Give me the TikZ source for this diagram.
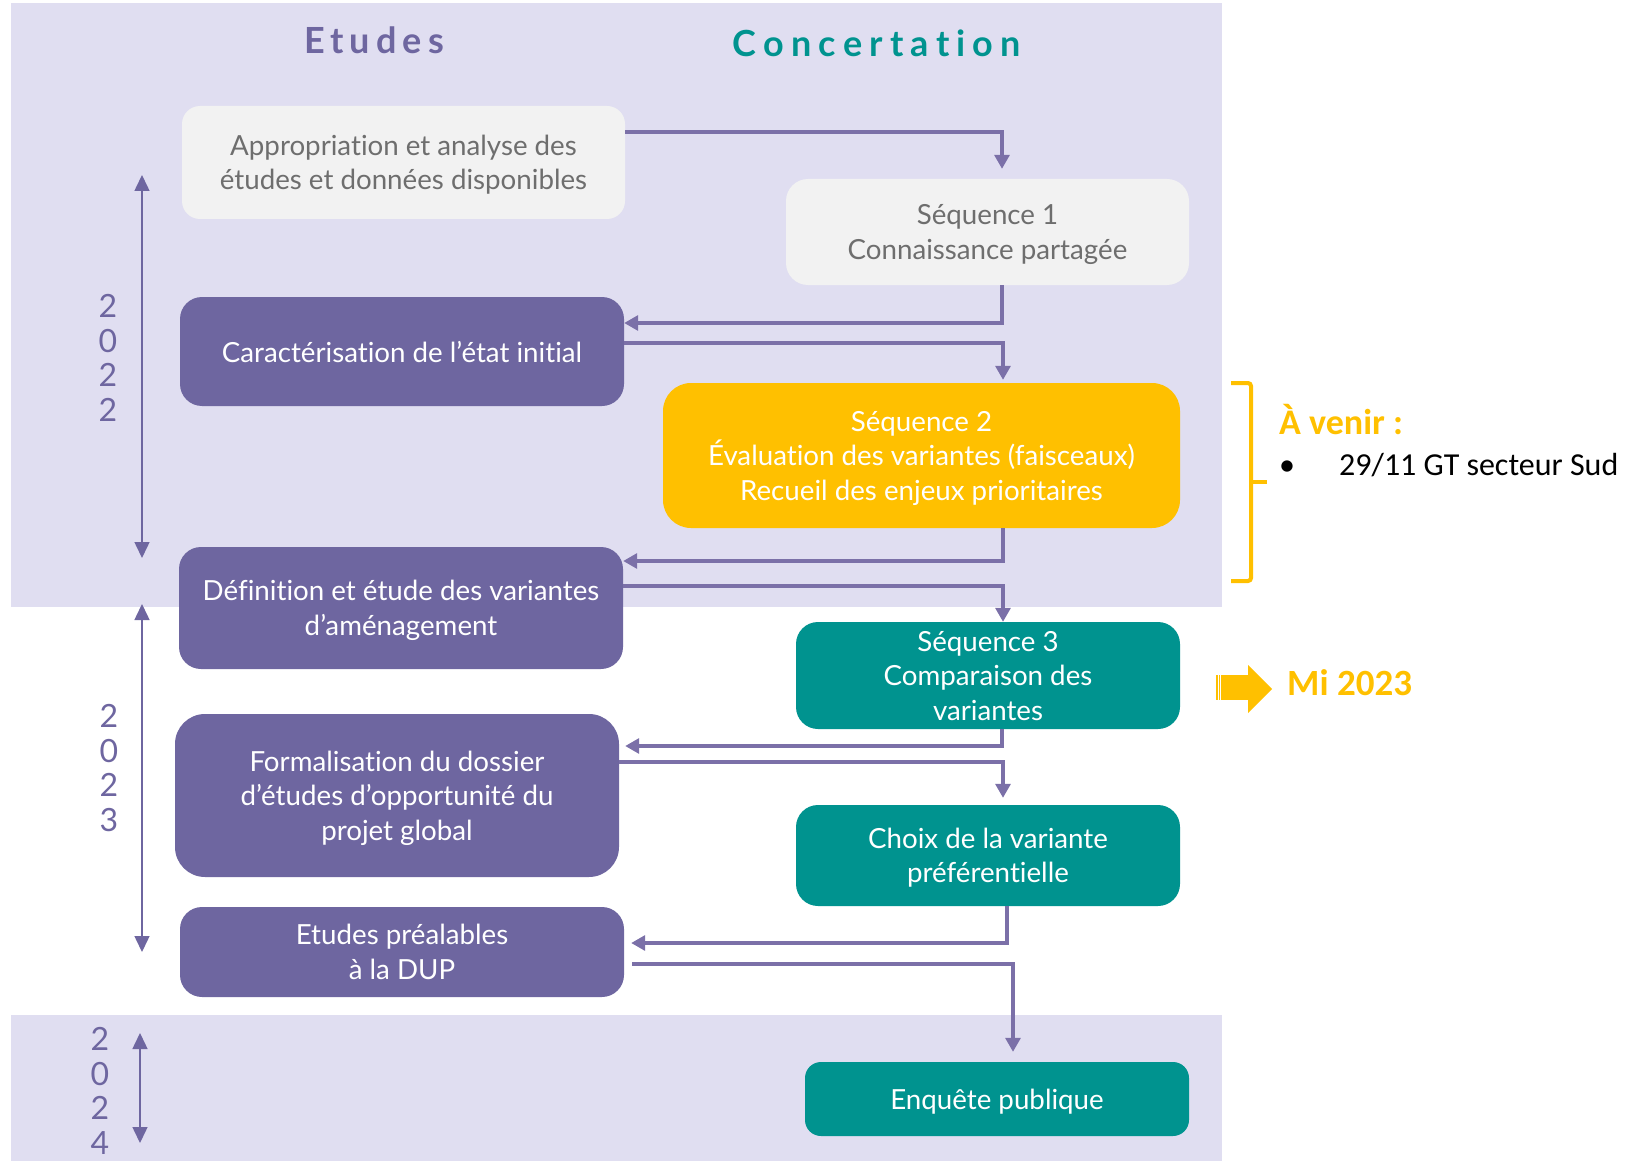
\documentclass[tikz,border=0pt]{standalone}
\usepackage{fontspec}
\setmainfont{Lato}[Ligatures=NoCommon]
\newfontfamily\calfont{Carlito}
\newfontfamily\titlefont[LetterSpace=17,Ligatures=NoCommon]{Lato}
\newfontfamily\titlefontwide[LetterSpace=20,Ligatures=NoCommon]{Lato}
\usepackage{tikz}
\usetikzlibrary{arrows.meta,calc}
\definecolor{bandlav}{HTML}{E0DEF1}
\definecolor{etupurple}{HTML}{6E66A0}
\definecolor{conteal}{HTML}{00938F}
\definecolor{boxgrey}{HTML}{F2F2F2}
\definecolor{textgrey}{HTML}{6E6E6E}
\definecolor{seqyellow}{HTML}{FFC000}
\definecolor{flowpurple}{HTML}{7B70A8}

\tikzset{
    box/.style={rectangle, rounded corners=22pt, align=center, inner sep=0pt, text depth=0pt,
        font=\fontsize{27.7}{34.5}\selectfont},
    greybox/.style={box, fill=boxgrey, text=textgrey},
    etubox/.style={box, fill=etupurple, text=white},
    conbox/.style={box, fill=conteal, text=white},
    flow/.style={draw=flowpurple, line width=3.2pt, -{Triangle[width=15pt,length=14pt]}},
    yearline/.style={draw=etupurple, line width=1.5pt,
        {Triangle[width=15pt,length=16pt]}-{Triangle[width=15pt,length=16pt]}},
    yeartext/.style={text=etupurple, align=center, inner sep=0pt,
        font=\fontsize{32}{34.5}\selectfont},
    bracket/.style={draw=seqyellow, line width=4pt, rounded corners=3pt}
}

\begin{document}
\begin{tikzpicture}[x=1pt, y=-1pt]
            \useasboundingbox (0,0) rectangle (1633,1161);
            \fill[bandlav] (11,3) rectangle (1222,607);
            \fill[bandlav] (11,1015) rectangle (1222,1161);

            \node[anchor=base, text=etupurple, font=\titlefont\fontsize{36}{40}\selectfont\bfseries]
                (ttlEtudes) at (374,54) {Etudes};
            \node[anchor=base, text=conteal, font=\titlefontwide\fontsize{36}{40}\selectfont\bfseries]
                (ttlConcert) at (877,57) {Concertation};

            \node[greybox, minimum width=443pt, minimum height=113pt, rounded corners=18pt]
                (appro) at (403.5,162.5) {Appropriation et analyse des\\études et données disponibles};
            \node[greybox, minimum width=403pt, minimum height=106pt]
                (seq1) at (987.5,232) {Séquence 1\\Connaissance partagée};
            \node[etubox, minimum width=444pt, minimum height=109pt]
                (carac) at (402,351.5) {Caractérisation de l’état initial};
            \node[box, fill=seqyellow, text=white, minimum width=517pt, minimum height=145pt, rounded corners=28pt]
                (seq2) at (921.5,455.5) {Séquence 2\\Évaluation des variantes (faisceaux)\\Recueil des enjeux prioritaires};
            \node[etubox, minimum width=444pt, minimum height=122pt]
                (def) at (401,608) {Définition et étude des variantes\\d’aménagement};
            \node[conbox, minimum width=384pt, minimum height=107pt]
                (seq3) at (988,675.5) {Séquence 3\\Comparaison des\\variantes};
            \node[etubox, minimum width=444pt, minimum height=163pt, rounded corners=30pt]
                (form) at (397,795.5) {Formalisation du dossier\\d’études d’opportunité du\\projet global};
            \node[conbox, minimum width=384pt, minimum height=101pt]
                (choix) at (988,855.5) {Choix de la variante\\préférentielle};
            \node[etubox, minimum width=444pt, minimum height=90pt]
                (etpre) at (402,952) {Etudes préalables\\à la DUP};
            \node[conbox, minimum width=384pt, minimum height=74pt, rounded corners=16pt]
                (enq) at (997,1099) {Enquête publique};

            \draw[flow] (appro.east |- 0,132) -| ([xshift=14.5pt,yshift=10pt]seq1.north);
            \draw[flow] ([xshift=14.5pt]seq1.south) |- (carac.east |- 0,323);
            \draw[flow] (carac.east |- 0,343) -| ([xshift=81.5pt,yshift=3pt]seq2.north);
            \draw[flow] ([xshift=81.5pt]seq2.south) |- (def.east |- 0,561);
            \draw[flow] (def.east |- 0,586) -| ([xshift=15pt]seq3.north);
            \draw[flow] ([xshift=14pt]seq3.south) |- ($(form.east |- 0,746)+(6,0)$);
            \draw[flow] (form.east |- 0,762) -| ([xshift=15pt,yshift=7pt]choix.north);
            \draw[flow] ([xshift=19pt]choix.south) |- ($(etpre.east |- 0,943)+(7,0)$);
            \draw[flow] ($(etpre.east |- 0,964)+(8,0)$) -| ([xshift=16pt,yshift=10pt]enq.north);

            \coordinate (y22a) at (142,175);
            \coordinate (y22b) at (142,558);
            \coordinate (y23a) at (142,604);
            \coordinate (y23b) at (142,952);
            \coordinate (y24a) at (140,1033);
            \coordinate (y24b) at (140,1143);
            \draw[yearline] (y22a) -- (y22b);
            \draw[yearline] (y23a) -- (y23b);
            \draw[yearline] (y24a) -- (y24b);
            \node[yeartext] (yr22) at (108,358) {2\\0\\2\\2};
            \node[yeartext] (yr23) at (109,768) {2\\0\\2\\3};
            \node[yeartext] (yr24) at (100,1091) {2\\0\\2\\4};

            \draw[bracket] (1231,383) -- (1251,383) -- (1251,581) -- (1231,581);
            \draw[bracket] (1251,482) -- (1267,482);
            \node[anchor=base west, inner sep=0pt, text=seqyellow, font=\calfont\fontsize{36}{40}\selectfont\bfseries]
                (avenir) at (1279,434) {À venir :};
            \node[anchor=base west, inner sep=0pt, font=\calfont\fontsize{32}{36}\selectfont]
                (bullet) at (1279,475) {•};
            \node[anchor=base west, inner sep=0pt, font=\calfont\fontsize{32}{36}\selectfont]
                (gtsud) at (1339,475) {29/11 GT secteur Sud};

            \fill[seqyellow] (1216,675) rectangle (1217.5,700);
            \fill[seqyellow] (1218.5,675) rectangle (1220,700);
            \fill[seqyellow] (1221,675) rectangle (1222.5,700);
            \fill[seqyellow] (1223,675) rectangle (1249,700);
            \fill[seqyellow] (1248,665) -- (1272,689) -- (1248,713) -- cycle;
            \node[anchor=base west, inner sep=0pt, text=seqyellow, font=\calfont\fontsize{37}{40}\selectfont\bfseries]
                (mi23) at (1287,695) {Mi 2023};
\end{tikzpicture}
\end{document}
